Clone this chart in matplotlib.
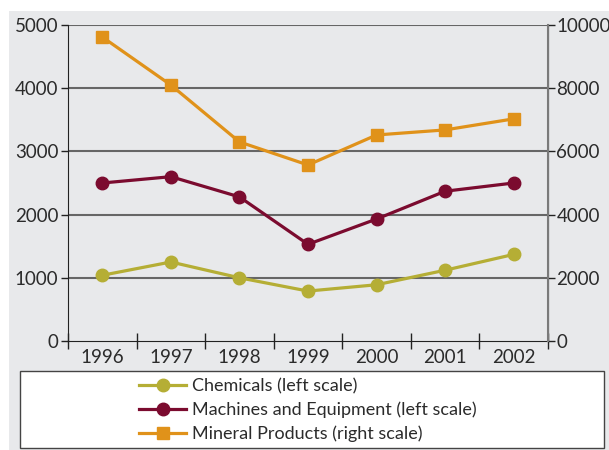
import matplotlib.pyplot as plt
from matplotlib.patches import Rectangle
from matplotlib.lines import Line2D

plt.rcParams['font.family'] = ['Lato', 'DejaVu Sans']

years = ['1996', '1997', '1998', '1999', '2000', '2001', '2002']
chemicals = [1040, 1250, 1000, 790, 890, 1120, 1370]
machines = [2500, 2600, 2280, 1530, 1930, 2370, 2500]
minerals = [9620, 8100, 6300, 5570, 6520, 6680, 7030]

c_chem = '#b5ae35'
c_mach = '#7b0b2f'
c_min = '#e0921a'
bg = '#e8e9eb'
txt = '#2b2b2b'

fig = plt.figure(figsize=(6.09, 4.5), dpi=100, facecolor='white')
fig.patches.append(Rectangle((9 / 609, 0), 1, 1 - 11 / 450, transform=fig.transFigure,
                             facecolor=bg, edgecolor='none', zorder=-10))

ax = fig.add_axes([68 / 609, 109 / 450, 480 / 609, 316 / 450])
ax.set_facecolor(bg)
ax2 = ax.twinx()

x = list(range(len(years)))
ax.plot(x, chemicals, color=c_chem, lw=2.3, marker='o', ms=9, zorder=3)
ax.plot(x, machines, color=c_mach, lw=2.3, marker='o', ms=9, zorder=3)
ax2.plot(x, minerals, color=c_min, lw=2.3, marker='s', ms=8.5, zorder=3)

ax.set_xlim(-0.5, 6.5)
ax.set_ylim(0, 5000)
ax2.set_ylim(0, 10000)
ax.set_yticks(range(0, 5001, 1000))
ax2.set_yticks(range(0, 10001, 2000))

for v in range(1000, 5001, 1000):
    ax.axhline(v, color='#666666', lw=1.5, zorder=1)

ax.set_xticks(x)
ax.set_xticklabels(years)
ax.set_xticks([i + 0.5 for i in range(-1, 7)], minor=True)
ax.tick_params(axis='x', which='major', length=0, pad=6, labelsize=13.5, labelcolor=txt)
ax.tick_params(axis='x', which='minor', direction='inout', length=12, width=1, color='#222222')
ax.tick_params(axis='y', length=5, width=1, color='#222222', labelsize=13.5, labelcolor=txt, pad=2)
ax2.tick_params(axis='y', length=5, width=1, color='#222222', labelsize=13.5, labelcolor=txt, pad=1)

for a in (ax, ax2):
    a.spines['top'].set_visible(False)
ax.spines['left'].set_color('#222222')
ax.spines['bottom'].set_color('#222222')
ax2.spines['right'].set_color('#7a7a7a')
ax2.spines['right'].set_linewidth(1.5)
ax2.spines['left'].set_visible(False)
ax2.spines['bottom'].set_visible(False)

# legend box below the plot
fig.patches.append(Rectangle((20 / 609, 2 / 450), 584 / 609, 77 / 450, transform=fig.transFigure,
                             facecolor='white', edgecolor='#444444', lw=1, zorder=-5))
handles = [
    Line2D([], [], color=c_chem, lw=2.3, marker='o', ms=9),
    Line2D([], [], color=c_mach, lw=2.3, marker='o', ms=9),
    Line2D([], [], color=c_min, lw=2.3, marker='s', ms=8.5),
]
labels = ['Chemicals (left scale)', 'Machines and Equipment (left scale)',
          'Mineral Products (right scale)']
fig.legend(handles, labels, loc='upper left', bbox_to_anchor=(125 / 609, 86 / 450),
           frameon=False, fontsize=13, handlelength=2.6, handletextpad=0.3,
           labelspacing=0.4, labelcolor=txt, borderpad=0.3)

plt.savefig('out.png', dpi=100, facecolor=fig.get_facecolor())
